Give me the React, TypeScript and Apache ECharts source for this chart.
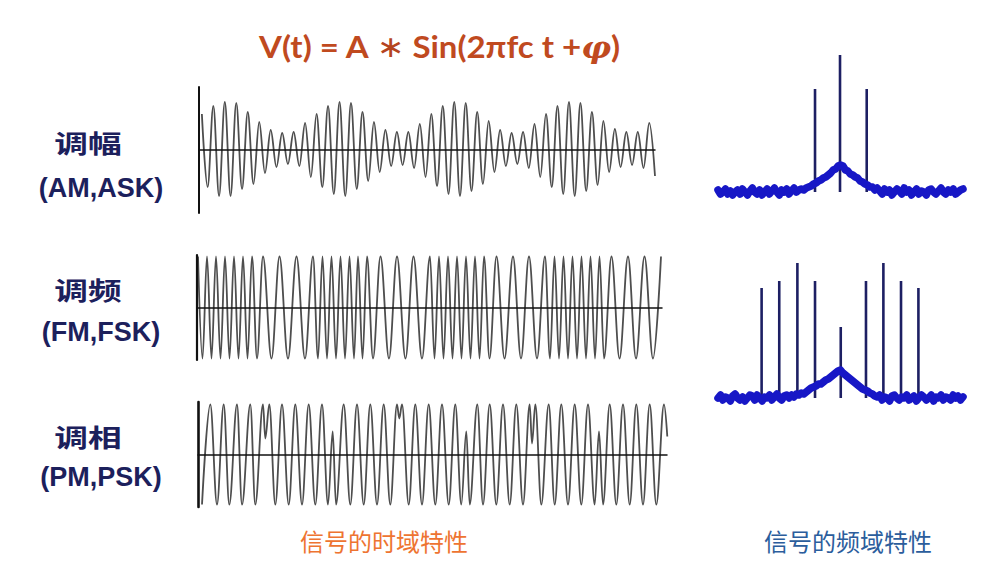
import React, { useEffect, useRef } from "react";
import * as echarts from "echarts";

// ---------- texts ----------
const ROW_NAMES = ["调幅", "调频", "调相"];
const ROW_CODES = ["(AM,ASK)", "(FM,FSK)", "(PM,PSK)"];
const TIME_DOMAIN_LABEL = "信号的时域特性";
const FREQ_DOMAIN_LABEL = "信号的频域特性";

// ---------- AM waveform: successive extrema (one per half-cycle) ----------
const AM_EXTREMA = [
  36, -37, 44, -46, 48, -46, 47, -39, 38, -34, 28, -23, 20, -17, 17, -14, 18, -16, 27, -27,
  36, -37, 44, -44, 48, -46, 47, -39, 38, -31, 28, -22, 20, -16, 18, -15, 18, -18, 26, -27,
  36, -36, 44, -44, 48, -46, 47, -41, 38, -34, 29, -22, 20, -16, 17, -14, 18, -18, 26, -27,
  36, -37, 44, -44, 48, -46, 47, -41, 38, -35, 29, -22, 21, -17, 18, -15, 18, -18, 27, -26,
];

// ---------- FM waveform: times of successive extrema (top, bottom, top, ...) ----------
const FM_EXTREMA_TIMES = [
  1, 5.5, 10, 14.5, 19, 23.5, 28, 32.5, 37, 41.5, 46, 50.5, 55, 60, 66, 74.5, 82.5, 91, 99.5, 108,
  116, 121, 125.5, 130, 134.5, 139, 143.5, 148, 152.5, 157, 161, 165.5, 170, 176, 183.5, 192, 200,
  208.5, 216.5, 225, 233, 237.5, 242, 246.5, 251, 255.5, 260, 264.5, 269, 273.5, 278, 282.5, 287,
  292.5, 299.5, 307.5, 316, 324, 332, 340, 348, 353, 357.5, 362, 366.5, 371, 375.5, 380, 384.5,
  389, 393.5, 398, 402.5, 407, 414.5, 422.5, 431, 439, 447.5, 456, 464,
];
const FM_AMPLITUDE = 51;

// ---------- PM waveform: extrema times and values (phase jumps give short peaks) ----------
const PM_TIMES = [
  4, 12.3, 19, 25.7, 31.3, 39, 44, 52.3, 57.3, 65, 67.3, 71.3, 77.3, 84, 90.7, 97.3, 104, 110.7,
  117.3, 124, 130, 134.7, 138, 145.7, 152.3, 159, 165.7, 172.3, 179, 185.7, 192.3, 199, 201.3, 204,
  210.7, 217.3, 224, 230.7, 237.3, 244, 250.7, 257.3, 263.3, 268.3, 271.7, 279.3, 285, 291.7, 298.3,
  305, 311.7, 318.3, 325, 331.7, 334, 337.3, 343.3, 350.7, 356.7, 363.3, 370, 376.7, 383.3, 390,
  396.7, 401, 405, 411.7, 418.3, 425, 431.7, 438.3, 445, 451.7, 458.3, 466, 469.3,
];
const PM_VALUES = [
  -50, 50, -50, 50, -50, 50, -50, 50, -50, 50, 16, 50, -50, 50, -50, 50, -50, 50,
  -50, 50, -50, 23, -50, 50, -50, 50, -50, 50, -50, 50, -50, 50, 36, 50,
  -50, 50, -50, 50, -50, 50, -50, 50, -50, 23, -50, 50, -50, 50, -50,
  50, -50, 50, -50, 50, 11, 50, -50, 50, -50, 50, -50, 50, -50, 50,
  -50, 23, -50, 50, -50, 50, -50, 50, -50, 50, -50, 50, 18,
];

// ---------- spectra: noisy background (frequency bins 0..100) ----------
const AM_SPECTRUM = [
  2, -2, 0, 3, -2, 1, -3, 0, 2, -2, 3, 0, -3, 1, 4, 0, -2, 2, -3, 0,
  3, -2, 1, 4, 0, -3, 2, 0, 3, -2, 1, 4, 0, 2, 3, 2, 4, 5, 6, 8,
  9, 11, 12, 14, 15, 17, 19, 22, 23, 26, 27, 26, 22, 21, 18, 17, 15, 14, 11, 10,
  8, 7, 5, 5, 2, 4, 1, -2, 3, 0, 2, -3, 0, 3, 1, -2, 4, 0, 2, -3,
  0, 3, -2, 1, 0, -3, 2, 3, 0, -2, 1, 4, 0, -2, 2, 0, 3, -2, 0, 2, 3,
];
const FM_SPECTRUM = [
  0, 3, -2, 1, 0, -3, 2, 4, 0, -2, 1, -3, 0, 3, 2, -2, 3, 0, -3, 1,
  0, 3, -2, 1, 4, 0, -2, 2, 3, 0, 3, 1, 4, 3, 5, 4, 6, 8, 10, 11,
  12, 14, 14, 16, 18, 19, 21, 23, 25, 27, 28, 25, 23, 21, 19, 17, 15, 13, 11, 9,
  8, 7, 5, 4, 2, 1, 3, -2, 1, 0, -3, 2, 3, 0, -2, 1, 0, 3, -2, 0,
  2, -3, 0, 3, 1, -2, 0, 3, -3, 1, 0, 3, -2, 1, 0, -2, 3, 0, 2, -2, 1,
];
const AM_LINE_FREQS = [39.6, 49.8, 60.7];
const AM_LINE_HEIGHTS = [103, 137, 103];
const FM_LINE_FREQS = [17.8, 25, 32.4, 39.6, 50.1, 60.4, 67.5, 74.7, 81.8];
const FM_LINE_HEIGHTS = [110, 117, 135, 117, 71, 117, 135, 117, 110];

// ---------- styles ----------
const WAVE_COLOR = "#4e4e4e";
const AXIS_COLOR = "#111111";
const NAVY = "#1d1f63";
const BAND_BLUE = "#1717c6";
const LABEL_NAVY = "#1c205c";

const hidden = { show: false };

function waveXAxis(grid: number, min: number, max: number) {
  return {
    gridIndex: grid,
    type: "value",
    min,
    max,
    z: 3,
    axisLine: { show: true, onZero: true, lineStyle: { color: AXIS_COLOR, width: 1.5 } },
    axisTick: hidden,
    axisLabel: hidden,
    splitLine: hidden,
  };
}
function waveYAxis(grid: number, lim: number, w: number) {
  return {
    gridIndex: grid,
    type: "value",
    min: -lim,
    max: lim,
    z: 3,
    axisLine: { show: true, onZero: false, lineStyle: { color: AXIS_COLOR, width: w } },
    axisTick: hidden,
    axisLabel: hidden,
    splitLine: hidden,
  };
}
function specXAxis(grid: number) {
  return { gridIndex: grid, type: "value", min: 0, max: 100, show: false };
}
function specYAxis(grid: number) {
  return { gridIndex: grid, type: "value", min: -10, max: 140, show: false };
}
function waveSeries(idx: number, data: number[][]) {
  return {
    type: "line",
    xAxisIndex: idx,
    yAxisIndex: idx,
    data,
    smooth: 0.36,
    smoothMonotone: "x",
    showSymbol: false,
    symbol: "none",
    lineStyle: { color: WAVE_COLOR, width: 1.8 },
    z: 2,
  };
}
function bandSeries(idx: number, values: number[]) {
  return {
    type: "line",
    xAxisIndex: idx,
    yAxisIndex: idx,
    data: values.map((v, i) => [i, v]),
    showSymbol: false,
    symbol: "none",
    lineStyle: { color: BAND_BLUE, width: 7.5, join: "round", cap: "round" },
    z: 4,
  };
}
function spikeSeries(idx: number, freqs: number[], heights: number[]) {
  return {
    type: "bar",
    xAxisIndex: idx,
    yAxisIndex: idx,
    data: freqs.map((f, i) => [f, heights[i]]),
    barWidth: 2.6,
    itemStyle: { color: NAVY },
    z: 3,
  };
}

const CJK = '"Noto Sans CJK SC", sans-serif';

function textEl(text: string, x: number, y: number, font: string, fill: string, scaleX = 1) {
  return {
    type: "text",
    x,
    y,
    scaleX,
    style: { text, font, fill, textAlign: "center", textVerticalAlign: "middle" },
  };
}

export default function App() {
  const ref = useRef<HTMLDivElement>(null);
  useEffect(() => {
    if (!ref.current) return;
    const chart = echarts.init(ref.current, undefined, { renderer: "svg" });
    const amData = AM_EXTREMA.map((v, i) => [i, v]);
    const fmData = FM_EXTREMA_TIMES.map((t, i) => [t, i % 2 === 0 ? FM_AMPLITUDE : -FM_AMPLITUDE]);
    const pmData = PM_TIMES.map((t, i) => [t, PM_VALUES[i]]);

    const rowY = [
      [142, 188],
      [289, 332],
      [436, 477],
    ];
    const graphic: any[] = [
      {
        type: "text",
        x: 439,
        y: 47,
        scaleX: 1.1,
        style: {
          text: "{a|V(t) = A }{b|∗}{a| Sin(2πfc t +}{c|φ}{a|)}",
          textAlign: "center",
          textVerticalAlign: "middle",
          rich: {
            a: { font: 'bold 30px Lato, "Liberation Sans", sans-serif', fill: "#c04a1f" },
            b: { font: '30px "DejaVu Sans", sans-serif', fill: "#b5441e" },
            c: { font: 'italic bold 30px "DejaVu Serif", serif', fill: "#c04a1f" },
          },
        },
      },
      textEl(TIME_DOMAIN_LABEL, 384, 540, `24px ${CJK}`, "#ee7431"),
      textEl(FREQ_DOMAIN_LABEL, 848, 540, `24px ${CJK}`, "#2b5d9c"),
    ];
    ROW_NAMES.forEach((n, i) => {
      graphic.push(textEl(n, 88, rowY[i][0], `bold 25px ${CJK}`, LABEL_NAVY, 1.35));
      graphic.push(
        textEl(ROW_CODES[i], 101, rowY[i][1], 'bold 27px "Liberation Sans", Arial, sans-serif', LABEL_NAVY, 1.0)
      );
    });

    chart.setOption({
      animation: false,
      backgroundColor: "#ffffff",
      grid: [
        { left: 199, top: 87, width: 456, height: 126 },
        { left: 197, top: 255, width: 465, height: 105 },
        { left: 198, top: 402, width: 469, height: 105 },
        { left: 718, top: 52, width: 245, height: 150 },
        { left: 718, top: 258, width: 245, height: 150 },
      ],
      xAxis: [
        waveXAxis(0, -0.5, 79),
        waveXAxis(1, 0, 465),
        waveXAxis(2, 0, 469),
        specXAxis(3),
        specXAxis(4),
      ],
      yAxis: [waveYAxis(0, 63, 2), waveYAxis(1, 52.5, 2.2), waveYAxis(2, 52.5, 2.6), specYAxis(3), specYAxis(4)],
      series: [
        waveSeries(0, amData),
        waveSeries(1, fmData),
        waveSeries(2, pmData),
        spikeSeries(3, AM_LINE_FREQS, AM_LINE_HEIGHTS),
        bandSeries(3, AM_SPECTRUM),
        spikeSeries(4, FM_LINE_FREQS, FM_LINE_HEIGHTS),
        bandSeries(4, FM_SPECTRUM),
      ],
      graphic,
    });
    return () => chart.dispose();
  }, []);
  return (
    <div
      ref={ref}
      style={{ position: "fixed", left: 0, top: 0, width: 993, height: 575, background: "#fff" }}
    />
  );
}
